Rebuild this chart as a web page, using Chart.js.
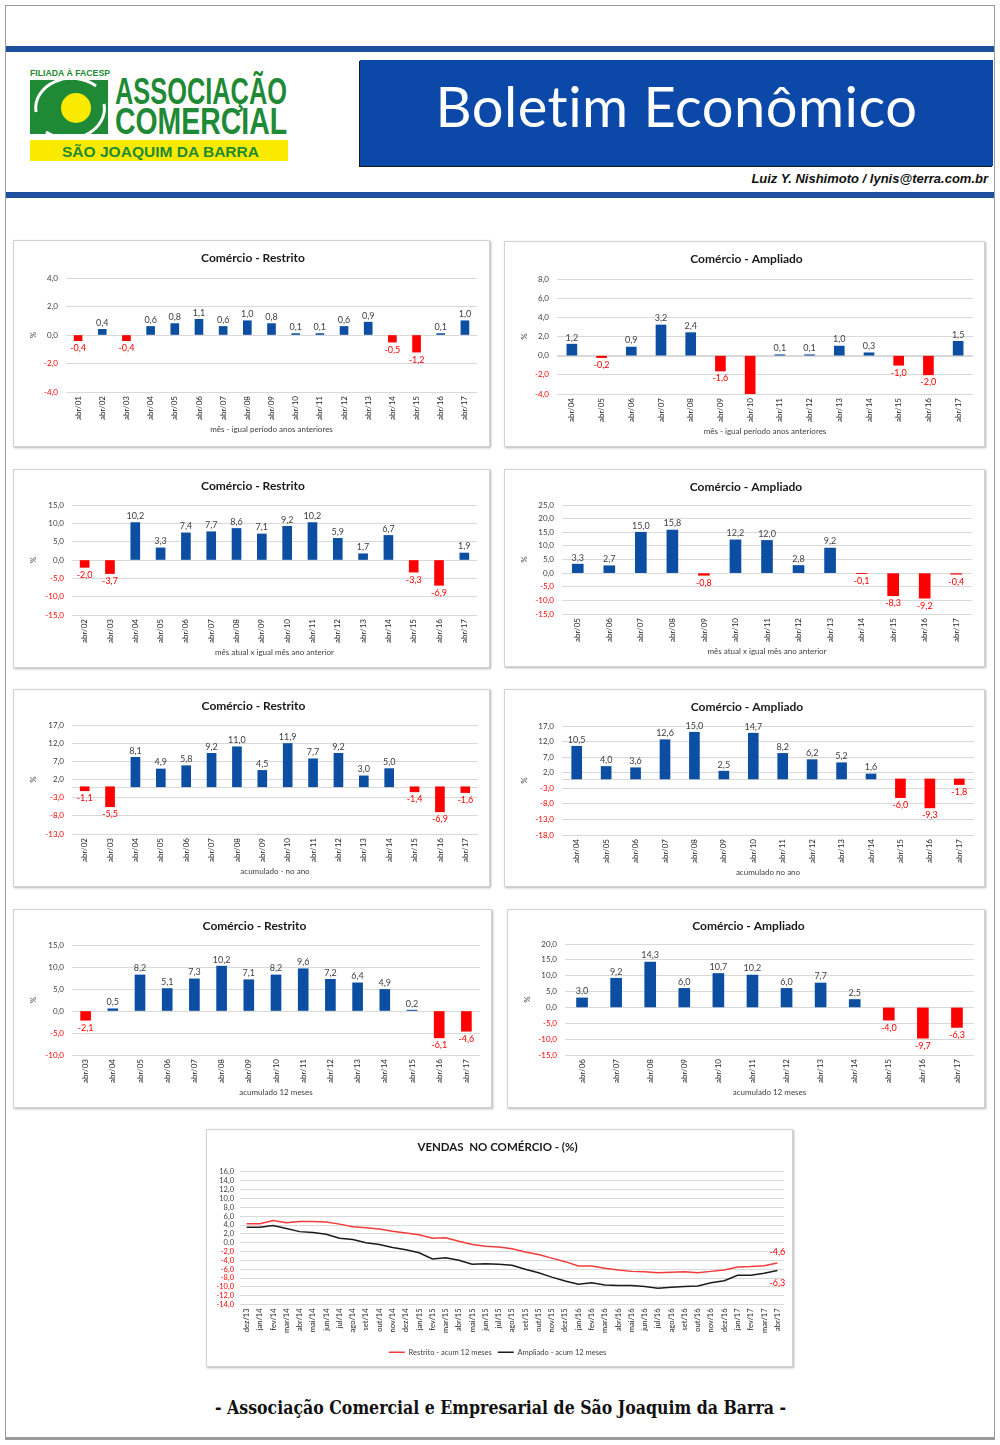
<!DOCTYPE html>
<html lang="pt-BR">
<head>
<meta charset="utf-8">
<title>Boletim Econômico</title>
<script src="https://cdn.jsdelivr.net/npm/chart.js@4.4.1/dist/chart.umd.min.js"></script>
<style>
  html, body { margin: 0; padding: 0; background: #fff; }
  #page { position: relative; width: 1000px; height: 1445px; overflow: hidden; font-family: Lato, 'Open Sans', sans-serif; }
  .frame { position: absolute; left: 5px; top: 5px; width: 988px; height: 1431px; border: 1px solid #9c9c9c; border-bottom: 3px solid #9a9a9a; }
  .stripe { position: absolute; left: 6px; width: 988px; height: 6px; background: #1e4f9f; }
  .banner { position: absolute; left: 360px; top: 60px; width: 633px; height: 106px; box-sizing: border-box; padding-bottom: 16px; background: #0b48a8; box-shadow: -1px 1px 0 #1a1a1a;
            color: #fff; font: 56px Lato, sans-serif; display: flex; align-items: center; justify-content: center; letter-spacing: 0.5px; }
  .author { position: absolute; right: 12px; top: 171px; font: italic bold 13px 'Liberation Sans', Arial, sans-serif; color: #111; }
  .box { position: absolute; box-sizing: border-box; border: 1px solid #d3d3d3; box-shadow: 1px 1px 2px rgba(0,0,0,0.3); background: #fff; }
  .box canvas { display: block; }
</style>
</head>
<body>
<div id="page">
  <div class="frame"></div>
  <div class="stripe" style="top:46px"></div>

  <svg style="position:absolute;left:26px;top:62px" width="268" height="102" viewBox="0 0 268 102">
    <text x="4" y="14" font-family="'Liberation Sans Narrow','Liberation Sans',sans-serif" font-weight="bold" font-size="8.5" fill="#1f8a35" textLength="80" lengthAdjust="spacingAndGlyphs">FILIADA À FACESP</text>
    <rect x="4" y="18" width="78" height="54" fill="#1f8a35"/>
    <path d="M 10 50 A 36 30 0 0 1 70 24" stroke="#fff" stroke-width="3" fill="none"/>
    <path d="M 78 42 A 36 30 0 0 1 20 70" stroke="#fff" stroke-width="3" fill="none"/>
    <circle cx="50" cy="46" r="15" fill="#faea00"/>
    <text x="89" y="42" font-family="'Liberation Sans Narrow','Liberation Sans',sans-serif" font-weight="bold" font-size="36" fill="#1f8a35" textLength="172" lengthAdjust="spacingAndGlyphs">ASSOCIAÇÃO</text>
    <text x="89" y="72" font-family="'Liberation Sans Narrow','Liberation Sans',sans-serif" font-weight="bold" font-size="36" fill="#1f8a35" textLength="172" lengthAdjust="spacingAndGlyphs">COMERCIAL</text>
    <rect x="4" y="78" width="258" height="21" fill="#faea00"/>
    <text x="36" y="95" font-family="'Liberation Sans','Open Sans',sans-serif" font-weight="bold" font-size="15" fill="#1f8a35" textLength="197" lengthAdjust="spacingAndGlyphs">SÃO JOAQUIM DA BARRA</text>
  </svg>

  <div class="banner">Boletim Econômico</div>
  <div class="author">Luiz Y. Nishimoto / lynis@terra.com.br</div>
  <div class="stripe" style="top:192px"></div>

  <div class="box" id="box1"><canvas id="c1"></canvas></div>
  <div class="box" id="box2"><canvas id="c2"></canvas></div>
  <div class="box" id="box3"><canvas id="c3"></canvas></div>
  <div class="box" id="box4"><canvas id="c4"></canvas></div>
  <div class="box" id="box5"><canvas id="c5"></canvas></div>
  <div class="box" id="box6"><canvas id="c6"></canvas></div>
  <div class="box" id="box7"><canvas id="c7"></canvas></div>
  <div class="box" id="box8"><canvas id="c8"></canvas></div>
  <div class="box" id="box9"><canvas id="c9"></canvas></div>

  <svg style="position:absolute;left:0;top:1390px" width="1000" height="34" viewBox="0 0 1000 34">
    <text x="500.5" y="24" text-anchor="middle" font-family="'DejaVu Serif','Liberation Serif',serif" font-weight="bold" font-size="18" fill="#111" textLength="571" lengthAdjust="spacingAndGlyphs">- Associação Comercial e Empresarial de São Joaquim da Barra -</text>
  </svg>
</div>

<script>
// mes - igual periodo anos anteriores
const mesRestritoLabels = ['abr/01', 'abr/02', 'abr/03', 'abr/04', 'abr/05', 'abr/06', 'abr/07', 'abr/08', 'abr/09', 'abr/10', 'abr/11', 'abr/12', 'abr/13', 'abr/14', 'abr/15', 'abr/16', 'abr/17'];
const mesRestritoValues = [-0.4, 0.4, -0.4, 0.6, 0.8, 1.1, 0.6, 1.0, 0.8, 0.1, 0.1, 0.6, 0.9, -0.5, -1.2, 0.1, 1.0];
const mesRestritoTicks = [-4, -2, 0, 2, 4];

const mesAmpliadoLabels = ['abr/04', 'abr/05', 'abr/06', 'abr/07', 'abr/08', 'abr/09', 'abr/10', 'abr/11', 'abr/12', 'abr/13', 'abr/14', 'abr/15', 'abr/16', 'abr/17'];
const mesAmpliadoValues = [1.2, -0.2, 0.9, 3.2, 2.4, -1.6, -4.6, 0.1, 0.1, 1.0, 0.3, -1.0, -2.0, 1.5];
const mesAmpliadoTicks = [-4, -2, 0, 2, 4, 6, 8];

// mes atual x igual mes ano anterior
const anualRestritoLabels = ['abr/02', 'abr/03', 'abr/04', 'abr/05', 'abr/06', 'abr/07', 'abr/08', 'abr/09', 'abr/10', 'abr/11', 'abr/12', 'abr/13', 'abr/14', 'abr/15', 'abr/16', 'abr/17'];
const anualRestritoValues = [-2.0, -3.7, 10.2, 3.3, 7.4, 7.7, 8.6, 7.1, 9.2, 10.2, 5.9, 1.7, 6.7, -3.3, -6.9, 1.9];
const anualRestritoTicks = [-15, -10, -5, 0, 5, 10, 15];

const anualAmpliadoLabels = ['abr/05', 'abr/06', 'abr/07', 'abr/08', 'abr/09', 'abr/10', 'abr/11', 'abr/12', 'abr/13', 'abr/14', 'abr/15', 'abr/16', 'abr/17'];
const anualAmpliadoValues = [3.3, 2.7, 15.0, 15.8, -0.8, 12.2, 12.0, 2.8, 9.2, -0.1, -8.3, -9.2, -0.4];
const anualAmpliadoTicks = [-15, -10, -5, 0, 5, 10, 15, 20, 25];

// acumulado no ano
const anoRestritoLabels = ['abr/02', 'abr/03', 'abr/04', 'abr/05', 'abr/06', 'abr/07', 'abr/08', 'abr/09', 'abr/10', 'abr/11', 'abr/12', 'abr/13', 'abr/14', 'abr/15', 'abr/16', 'abr/17'];
const anoRestritoValues = [-1.1, -5.5, 8.1, 4.9, 5.8, 9.2, 11.0, 4.5, 11.9, 7.7, 9.2, 3.0, 5.0, -1.4, -6.9, -1.6];
const anoRestritoTicks = [-13, -8, -3, 2, 7, 12, 17];

const anoAmpliadoLabels = ['abr/04', 'abr/05', 'abr/06', 'abr/07', 'abr/08', 'abr/09', 'abr/10', 'abr/11', 'abr/12', 'abr/13', 'abr/14', 'abr/15', 'abr/16', 'abr/17'];
const anoAmpliadoValues = [10.5, 4.0, 3.6, 12.6, 15.0, 2.5, 14.7, 8.2, 6.2, 5.2, 1.6, -6.0, -9.3, -1.8];
const anoAmpliadoTicks = [-18, -13, -8, -3, 2, 7, 12, 17];

// acumulado 12 meses
const dozeRestritoLabels = ['abr/03', 'abr/04', 'abr/05', 'abr/06', 'abr/07', 'abr/08', 'abr/09', 'abr/10', 'abr/11', 'abr/12', 'abr/13', 'abr/14', 'abr/15', 'abr/16', 'abr/17'];
const dozeRestritoValues = [-2.1, 0.5, 8.2, 5.1, 7.3, 10.2, 7.1, 8.2, 9.6, 7.2, 6.4, 4.9, 0.2, -6.1, -4.6];
const dozeRestritoTicks = [-10, -5, 0, 5, 10, 15];

const dozeAmpliadoLabels = ['abr/06', 'abr/07', 'abr/08', 'abr/09', 'abr/10', 'abr/11', 'abr/12', 'abr/13', 'abr/14', 'abr/15', 'abr/16', 'abr/17'];
const dozeAmpliadoValues = [3.0, 9.2, 14.3, 6.0, 10.7, 10.2, 6.0, 7.7, 2.5, -4.0, -9.7, -6.3];
const dozeAmpliadoTicks = [-15, -10, -5, 0, 5, 10, 15, 20];

// vendas no comercio - acumulado 12 meses
const vendasMonths = ['dez/13', 'jan/14', 'fev/14', 'mar/14', 'abr/14', 'mai/14', 'jun/14', 'jul/14', 'ago/14', 'set/14', 'out/14', 'nov/14', 'dez/14',
  'jan/15', 'fev/15', 'mar/15', 'abr/15', 'mai/15', 'jun/15', 'jul/15', 'ago/15', 'set/15', 'out/15', 'nov/15', 'dez/15',
  'jan/16', 'fev/16', 'mar/16', 'abr/16', 'mai/16', 'jun/16', 'jul/16', 'ago/16', 'set/16', 'out/16', 'nov/16', 'dez/16',
  'jan/17', 'fev/17', 'mar/17', 'abr/17'];
const vendasRestrito = [4.3, 4.3, 5.0, 4.5, 4.8, 4.8, 4.7, 4.2, 3.6, 3.4, 3.1, 2.6, 2.2,
  1.8, 1.0, 1.1, 0.3, -0.4, -0.8, -1.0, -1.4, -2.1, -2.7, -3.5, -4.3,
  -5.3, -5.3, -5.8, -6.2, -6.5, -6.6, -6.8, -6.7, -6.6, -6.8, -6.5, -6.2,
  -5.5, -5.4, -5.2, -4.6];
const vendasAmpliado = [3.5, 3.5, 3.9, 3.2, 2.5, 2.3, 1.9, 1.0, 0.7, 0.0, -0.4, -1.1, -1.6,
  -2.3, -3.7, -3.4, -4.0, -4.9, -4.8, -4.9, -5.1, -6.0, -6.8, -7.8, -8.7,
  -9.4, -9.1, -9.6, -9.7, -9.7, -9.9, -10.3, -10.1, -9.9, -9.8, -9.1, -8.6,
  -7.4, -7.4, -6.9, -6.3];
const vendasTicks = [-14, -12, -10, -8, -6, -4, -2, 0, 2, 4, 6, 8, 10, 12, 14, 16];

const BLUE = '#0b4ea2';
const RED = '#ff0000';
const GRID = '#d9d9d9';
const TXT = '#404040';
const FONT = 'Lato';

function fmt(v) {
  return v.toFixed(1).replace('.', ',');
}

// box: x, y, w, h on the page; plot: left, right, top, bottom inside the box
const boxes = {
  box1: { x: 13, y: 240, w: 477, h: 207, left: 52, right: 12, top: 37, bottom: 151, titleY: 17 },
  box2: { x: 504, y: 241, w: 481, h: 206, left: 52, right: 11, top: 37, bottom: 152, titleY: 17 },
  box3: { x: 13, y: 469, w: 477, h: 199, left: 58, right: 12, top: 35, bottom: 145, titleY: 16 },
  box4: { x: 504, y: 469, w: 481, h: 198, left: 57, right: 12, top: 35, bottom: 144, titleY: 17 },
  box5: { x: 13, y: 689, w: 477, h: 198, left: 58, right: 11, top: 35, bottom: 144, titleY: 16 },
  box6: { x: 504, y: 689, w: 481, h: 198, left: 57, right: 10, top: 36, bottom: 145, titleY: 17 },
  box7: { x: 13, y: 909, w: 479, h: 199, left: 58, right: 11, top: 35, bottom: 145, titleY: 16 },
  box8: { x: 507, y: 909, w: 478, h: 199, left: 57, right: 10, top: 34, bottom: 145, titleY: 16 },
  box9: { x: 206, y: 1129, w: 587, h: 238, left: 33, right: 8, top: 42, bottom: 174, titleY: 17 }
};

Object.keys(boxes).forEach((id) => {
  const b = boxes[id];
  const el = document.getElementById(id);
  el.style.left = `${b.x}px`;
  el.style.top = `${b.y}px`;
  el.style.width = `${b.w}px`;
  el.style.height = `${b.h}px`;
});

const zeroLine = {
  id: 'zeroLine',
  beforeDatasetsDraw(chart) {
    const { ctx, chartArea, scales } = chart;
    const py = Math.round(scales.y.getPixelForValue(0)) + 0.5;
    ctx.save();
    ctx.strokeStyle = GRID;
    ctx.lineWidth = 1;
    ctx.beginPath();
    ctx.moveTo(chartArea.left, py);
    ctx.lineTo(chartArea.right, py);
    ctx.stroke();
    ctx.restore();
  }
};

const valueLabels = {
  id: 'valueLabels',
  afterDatasetsDraw(chart) {
    const { ctx, scales } = chart;
    const values = chart.data.datasets[0].data;
    ctx.save();
    ctx.font = `9px ${FONT}`;
    ctx.textAlign = 'center';
    chart.getDatasetMeta(0).data.forEach((bar, i) => {
      const v = values[i];
      if (v < scales.y.min || v > scales.y.max) {
        return;
      }
      if (v >= 0) {
        ctx.fillStyle = TXT;
        ctx.textBaseline = 'bottom';
        ctx.fillText(fmt(v), bar.x, bar.y - 2);
      } else {
        ctx.fillStyle = RED;
        ctx.textBaseline = 'top';
        ctx.fillText(fmt(v), bar.x, bar.y + 3);
      }
    });
    ctx.restore();
  }
};

function barChart(canvasId, boxId, title, xTitle, labels, values, ticks, thickness) {
  const g = boxes[boxId];
  const h = g.h - 2;
  const padLeft = 15;
  const padBottom = h - g.bottom - 37 - 4.8;
  const titleTop = g.titleY - 7.2;

  return new Chart(document.getElementById(canvasId), {
    type: 'bar',
    data: {
      labels,
      datasets: [{
        data: values,
        backgroundColor: values.map((v) => (v < 0 ? RED : BLUE)),
        barThickness: thickness
      }]
    },
    options: {
      responsive: true,
      maintainAspectRatio: false,
      animation: false,
      layout: { padding: { left: padLeft, right: g.right, top: 0, bottom: padBottom } },
      plugins: {
        legend: { display: false },
        tooltip: { enabled: false },
        title: {
          display: true,
          text: title,
          color: '#1a1a1a',
          font: { family: FONT, size: 12, weight: 'bold', lineHeight: 1.2 },
          padding: { top: titleTop, bottom: g.top - titleTop - 14.4 }
        }
      },
      scales: {
        x: {
          grid: { display: false, drawTicks: false },
          border: { display: false },
          ticks: { minRotation: 90, maxRotation: 90, autoSkip: false, color: '#262626', font: { family: FONT, size: 8 }, padding: 4 },
          title: { display: true, text: xTitle, color: TXT, font: { family: FONT, size: 8, lineHeight: 1.2 }, padding: 0 },
          afterFit: (s) => { s.height = 41.8; }
        },
        y: {
          min: ticks[0],
          max: ticks[ticks.length - 1],
          afterBuildTicks: (s) => { s.ticks = ticks.map((v) => ({ value: v })); },
          grid: { color: GRID, drawTicks: false },
          border: { display: false },
          ticks: {
            padding: 8,
            autoSkip: false,
            color: (c) => (c.tick && c.tick.value < 0 ? RED : TXT),
            font: { family: FONT, size: 8 },
            callback: (v) => fmt(v)
          },
          title: { display: true, text: '%', color: TXT, font: { family: FONT, size: 8, lineHeight: 1.2 }, padding: 0 },
          afterFit: (s) => { s.width = g.left - padLeft; }
        }
      }
    },
    plugins: [zeroLine, valueLabels]
  });
}

barChart('c1', 'box1', 'Comércio - Restrito', 'mês - igual período anos anteriores', mesRestritoLabels, mesRestritoValues, mesRestritoTicks, 8);
barChart('c2', 'box2', 'Comércio - Ampliado', 'mês - igual período anos anteriores', mesAmpliadoLabels, mesAmpliadoValues, mesAmpliadoTicks, 10);
barChart('c3', 'box3', 'Comércio - Restrito', 'mês atual x igual mês ano anterior', anualRestritoLabels, anualRestritoValues, anualRestritoTicks, 9);
barChart('c4', 'box4', 'Comércio - Ampliado', 'mês atual x igual mês ano anterior', anualAmpliadoLabels, anualAmpliadoValues, anualAmpliadoTicks, 11);
barChart('c5', 'box5', 'Comércio - Restrito', 'acumulado - no ano', anoRestritoLabels, anoRestritoValues, anoRestritoTicks, 9);
barChart('c6', 'box6', 'Comércio - Ampliado', 'acumulado no ano', anoAmpliadoLabels, anoAmpliadoValues, anoAmpliadoTicks, 10);
barChart('c7', 'box7', 'Comércio - Restrito', 'acumulado 12 meses', dozeRestritoLabels, dozeRestritoValues, dozeRestritoTicks, 10);
barChart('c8', 'box8', 'Comércio - Ampliado', 'acumulado 12 meses', dozeAmpliadoLabels, dozeAmpliadoValues, dozeAmpliadoTicks, 11);

const endLabels = {
  id: 'endLabels',
  afterDatasetsDraw(chart) {
    const { ctx } = chart;
    ctx.save();
    ctx.font = `9px ${FONT}`;
    ctx.fillStyle = RED;
    ctx.textAlign = 'center';
    chart.data.datasets.forEach((ds, i) => {
      const pts = chart.getDatasetMeta(i).data;
      const last = pts[pts.length - 1];
      const v = ds.data[ds.data.length - 1];
      if (i === 0) {
        ctx.textBaseline = 'bottom';
        ctx.fillText(fmt(v), last.x, last.y - 6);
      } else {
        ctx.textBaseline = 'top';
        ctx.fillText(fmt(v), last.x, last.y + 8);
      }
    });
    ctx.restore();
  }
};

(function lineChart() {
  const g = boxes.box9;
  const padLeft = 4;
  const titleTop = g.titleY - 6.9;
  new Chart(document.getElementById('c9'), {
    type: 'line',
    data: {
      labels: vendasMonths,
      datasets: [
        { label: 'Restrito - acum 12 meses', data: vendasRestrito, borderColor: '#f23b3b', backgroundColor: '#f23b3b', borderWidth: 1.5, pointRadius: 0, tension: 0 },
        { label: 'Ampliado - acum 12 meses', data: vendasAmpliado, borderColor: '#1c1c1c', backgroundColor: '#1c1c1c', borderWidth: 1.5, pointRadius: 0, tension: 0 }
      ]
    },
    options: {
      responsive: true,
      maintainAspectRatio: false,
      animation: false,
      layout: { padding: { left: padLeft, right: g.right, top: 0, bottom: 0 } },
      plugins: {
        tooltip: { enabled: false },
        title: {
          display: true,
          text: 'VENDAS  NO COMÉRCIO - (%)',
          color: '#1a1a1a',
          font: { family: FONT, size: 11.5, weight: 'bold', lineHeight: 1.2 },
          padding: { top: titleTop, bottom: g.top - titleTop - 13.8 }
        },
        legend: {
          position: 'bottom',
          labels: {
            usePointStyle: true,
            pointStyle: 'line',
            pointStyleWidth: 16,
            color: TXT,
            font: { family: FONT, size: 7.5 },
            padding: 6
          }
        }
      },
      scales: {
        x: {
          offset: true,
          grid: { display: false, drawTicks: false },
          border: { display: false },
          ticks: { minRotation: 90, maxRotation: 90, autoSkip: false, color: '#262626', font: { family: FONT, size: 7.5 }, padding: 4 },
          afterFit: (s) => { s.height = 38; }
        },
        y: {
          min: vendasTicks[0],
          max: vendasTicks[vendasTicks.length - 1],
          afterBuildTicks: (s) => { s.ticks = vendasTicks.map((v) => ({ value: v })); },
          grid: { color: GRID, drawTicks: false },
          border: { display: false },
          ticks: {
            padding: 6,
            autoSkip: false,
            color: (c) => (c.tick && c.tick.value < 0 ? RED : TXT),
            font: { family: FONT, size: 7.5 },
            callback: (v) => fmt(v)
          },
          afterFit: (s) => { s.width = g.left - padLeft; }
        }
      }
    },
    plugins: [endLabels]
  });
})();
</script>
</body>
</html>
